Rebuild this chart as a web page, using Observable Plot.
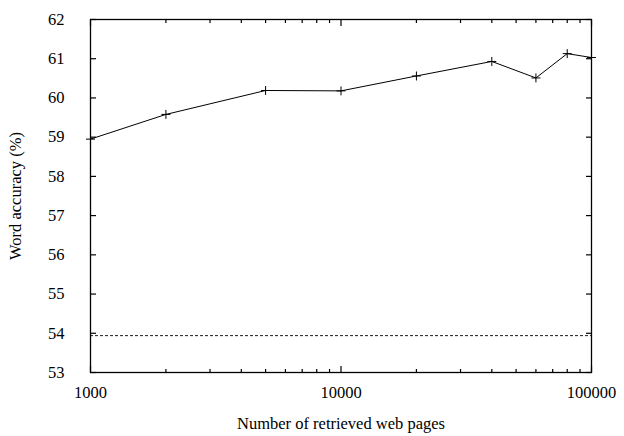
<!DOCTYPE html>
<html><head><meta charset="utf-8">
<script src="https://cdn.jsdelivr.net/npm/d3@7"></script>
<script src="https://cdn.jsdelivr.net/npm/@observablehq/plot@0.6"></script>
<style>body{margin:0;background:#fff}</style>
</head><body><div id="chart"></div>
<script>
const pages = [1000, 2000, 5000, 10000, 20000, 40000, 60000, 80000, 100000];
const accuracy = [58.95, 59.58, 60.19, 60.18, 60.56, 60.93, 60.51, 61.13, 61.03];
const baseline = [53.94];
const majorX = [1000, 10000, 100000];
const minorX = [2000,3000,4000,5000,6000,7000,8000,9000,20000,30000,40000,50000,60000,70000,80000,90000];
const yTicks = [53,54,55,56,57,58,59,60,61,62];

const data = pages.map((p, i) => ({pages: p, acc: accuracy[i]}));
const none = () => "";

const W = 624, H = 436, mL = 90, mR = 33, mT = 19, mB = 64;
const tk = {stroke: "black", strokeWidth: 1.2, tickFormat: none, label: null};

const chart = Plot.plot({
  width: W, height: H,
  marginLeft: mL, marginRight: mR, marginTop: mT, marginBottom: mB,
  style: {fontFamily: "Liberation Serif", fontSize: "16.5px", color: "black", background: "white"},
  x: {type: "log", domain: [1000, 100000]},
  y: {domain: [53, 62]},
  marks: [
    Plot.axisX(majorX, {anchor: "bottom", tickSize: 0, tickPadding: 14, tickFormat: d => String(d), label: "Number of retrieved web pages", labelAnchor: "center", labelOffset: 56, labelArrow: false}),
    Plot.axisY(yTicks, {anchor: "left", tickSize: 0, tickPadding: 26, label: "Word accuracy (%)", labelAnchor: "center", labelOffset: 81, labelArrow: false}),
    // inward ticks on all four sides (axis ticks shifted into the frame)
    Plot.axisX(majorX, {anchor: "bottom", tickSize: 6, dy: -6, ...tk}),
    Plot.axisX(minorX, {anchor: "bottom", tickSize: 3, dy: -3, ...tk}),
    Plot.axisX(majorX, {anchor: "top", tickSize: 6, dy: 6, ...tk}),
    Plot.axisX(minorX, {anchor: "top", tickSize: 3, dy: 3, ...tk}),
    Plot.axisY(yTicks, {anchor: "left", tickSize: 6, dx: 6, ...tk}),
    Plot.axisY(yTicks, {anchor: "right", tickSize: 6, dx: -6, ...tk}),
    Plot.ruleY(baseline, {stroke: "black", strokeWidth: 0.9, strokeDasharray: "3,2"}),
    Plot.line(data, {x: "pages", y: "acc", stroke: "black", strokeWidth: 1}),
    Plot.dot(data, {x: "pages", y: "acc", symbol: "plus", r: 3, stroke: "black", strokeWidth: 1}),
    Plot.frame({stroke: "black", strokeWidth: 1.3})
  ]
});
document.getElementById("chart").appendChild(chart);
</script>
</body></html>
